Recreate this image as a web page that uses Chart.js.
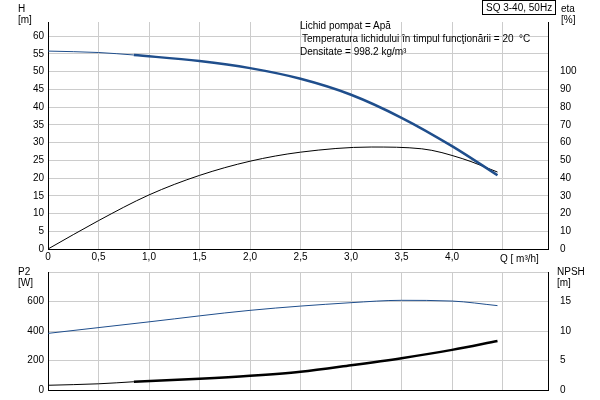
<!DOCTYPE html>
<html><head><meta charset="utf-8">
<script src="https://cdn.jsdelivr.net/npm/chart.js@4"></script>
<style>
body{margin:0;width:600px;height:400px;background:#fff;position:relative;font-family:"Liberation Sans",Arial,sans-serif;font-size:10px;color:#000;overflow:hidden}
canvas{position:absolute;left:0}
.t{position:absolute;white-space:nowrap;line-height:11px}
</style></head><body>
<canvas id="top" width="600" height="262" style="top:0"></canvas>
<canvas id="bot" width="600" height="138" style="top:262px"></canvas>
<div class="t" style="left:18px;top:3px">H<br>[m]</div>
<div class="t" style="left:561px;top:3px">eta<br>[%]</div>
<div class="t" style="left:482px;top:0px;border:1px solid #000;padding:1px 3px;">SQ 3-40, 50Hz</div>
<div class="t" style="left:300px;top:20px">Lichid pompat = Apă</div>
<div class="t" style="left:302px;top:33px">Temperatura lichidului în timpul funcţionării = 20 &nbsp;°C</div>
<div class="t" style="left:300px;top:46px">Densitate = 998.2 kg/m³</div>
<div class="t" style="left:500px;top:253px">Q [ m³/h]</div>
<div class="t" style="left:18px;top:266px">P2<br>[W]</div>
<div class="t" style="left:557px;top:266px">NPSH<br>[m]</div>
<script>
// Q values [m3/h]
const qThin = [0, 0.5, 0.85];
const qMain = [0.85, 1.5, 2.0, 2.5, 3.0, 3.5, 4.0, 4.45];
const qEta = [0, 0.5, 1.0, 1.5, 2.0, 2.5, 3.2, 3.7, 4.1, 4.45];
// H [m]
const hThin = [55.8, 55.4, 54.7];
const hMain = [54.7, 53.0, 51.0, 48.0, 43.5, 37.0, 29.0, 20.8];
// eta [%]
const etaVals = [0, 16, 30.5, 41.5, 49.5, 54.6, 57.5, 56.5, 51, 43.4];
// P2 [W]
const qP2 = [0, 1.0, 2.0, 3.0, 3.5, 4.0, 4.45];
const p2Vals = [384, 462, 540, 592, 608, 603, 572];
// NPSH [m]
const npshThin = [0.8, 1.05, 1.4];
const npshMain = [1.4, 1.9, 2.4, 3.1, 4.2, 5.4, 6.8, 8.3];
const xTicks = [0, 0.5, 1.0, 1.5, 2.0, 2.5, 3.0, 3.5, 4.0];

const blue = '#1f4e8c';
const pts = (xs, ys) => xs.map((x, i) => ({x, y: ys[i]}));
const line = (data, color, w, yAxisID) => ({data, borderColor: color, borderWidth: w, pointRadius: 0, cubicInterpolationMode: 'monotone', fill: false, yAxisID});
const font = {family: 'Liberation Sans', size: 10};
const grid = {color: '#cccccc', drawTicks: false};

function xScale(showLabels, h) {
  return {type: 'linear', min: 0, max: 4.95, afterBuildTicks: s => { s.ticks = xTicks.concat([4.5]).map(v => ({value: v})); },
    grid: grid, border: {color: '#000'},
    ticks: {display: showLabels, color: '#000', font, padding: 2, callback: v => v === 4.5 ? '' : (v === 0 ? '0' : v.toFixed(1).replace('.', ','))},
    afterFit: s => { s.height = h; }};
}
function yScale(pos, max, step, lastLabel, w, showGrid) {
  return {type: 'linear', position: pos, min: 0, max: max,
    afterBuildTicks: s => { const t = []; for (let v = 0; v <= max; v += step) t.push({value: v}); s.ticks = t; },
    grid: showGrid ? grid : {display: false}, border: {color: '#000'},
    ticks: {color: '#000', font, padding: 4, callback: v => v <= lastLabel ? String(v) : ''},
    afterFit: s => { s.width = w; }};
}
const base = {responsive: false, animation: false, plugins: {legend: {display: false}, tooltip: {enabled: false}}};

new Chart(document.getElementById('top'), {
  type: 'line',
  data: {datasets: [
    line(pts(qThin, hThin), blue, 1, 'y'),
    line(pts(qMain, hMain), blue, 2.5, 'y'),
    line(pts(qEta, etaVals), '#000', 1, 'y1')
  ]},
  options: Object.assign({}, base, {layout: {padding: {top: 22}},
    scales: {x: xScale(true, 13), y: yScale('left', 64, 5, 60, 48, true), y1: yScale('right', 128, 10, 100, 52, false)}})
});

new Chart(document.getElementById('bot'), {
  type: 'line',
  data: {datasets: [
    line(pts(qP2, p2Vals), blue, 1, 'y'),
    line(pts(qThin, npshThin), '#000', 1, 'y1'),
    line(pts(qMain, npshMain), '#000', 2.5, 'y1')
  ]},
  options: Object.assign({}, base, {layout: {padding: {top: 6}},
    scales: {x: xScale(false, 9), y: yScale('left', 800, 200, 600, 48, true), y1: yScale('right', 20, 5, 15, 52, false)}})
});
</script>
</body></html>
